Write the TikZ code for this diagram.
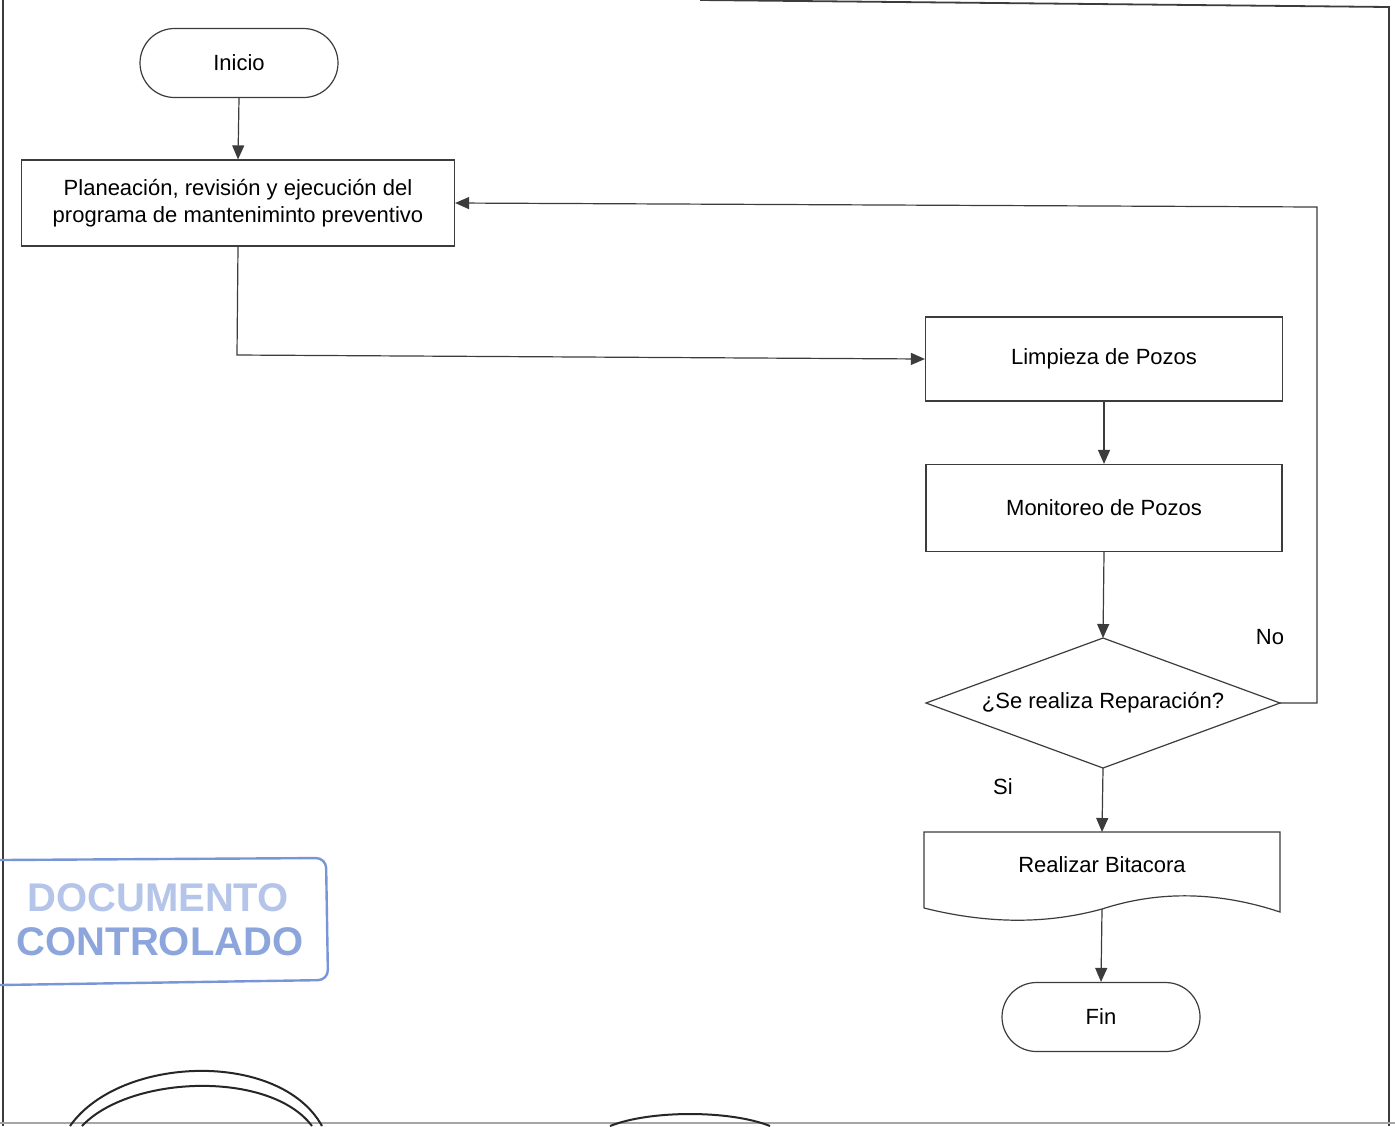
\documentclass[tikz,border=0pt]{standalone}
\usepackage{fontspec}
\setmainfont{Liberation Sans}
\usetikzlibrary{arrows.meta,shapes.misc}
\definecolor{stampblue}{RGB}{120,150,215}
\definecolor{linegray}{RGB}{60,60,60}
\begin{document}
\begin{tikzpicture}[x=0.5pt,y=-0.5pt,
  box/.style={draw=linegray,line width=0.6pt,rectangle,inner sep=0pt,font=\fontsize{11}{13.5}\selectfont,align=center},
  term/.style={draw=linegray,line width=0.6pt,rounded rectangle,inner sep=0pt,font=\fontsize{11}{13.5}\selectfont},
  conn/.style={draw=linegray,line width=0.6pt,-{Triangle[length=7pt,width=6pt]}},
  plain/.style={draw=linegray,line width=0.6pt},
  lbl/.style={font=\fontsize{11}{13.5}\selectfont,inner sep=0pt},
  stamptxt/.style={font=\fontsize{20}{22}\selectfont\bfseries,inner sep=0pt}]
\useasboundingbox (0,0) rectangle (1395,1126);
\fill[white] (0,0) rectangle (1395,1126);
% page frame
\draw[linegray,line width=0.6pt] (3,0) -- (3,1126);
\draw[linegray,line width=0.6pt] (1389,6) -- (1389,1126);
\draw[linegray,line width=0.9pt] (700,0) -- (1389,7);
\draw[gray!70,line width=1pt] (0,1123) -- (1395,1123);
% nodes
\node[term,minimum width=99pt,minimum height=34.5pt] (inicio) at (239,63) {Inicio};
\node[box,minimum width=216.5pt,minimum height=43pt] (plan) at (238,203) {Planeación, revisión y ejecución del\\programa de manteniminto preventivo};
\node[box,minimum width=178.5pt,minimum height=42pt] (limp) at (1104,359) {Limpieza de Pozos};
\node[box,minimum width=178pt,minimum height=43.5pt] (moni) at (1104,508) {Monitoreo de Pozos};
% decision diamond
\coordinate (dt) at (1103,638);
\coordinate (dr) at (1280,703);
\coordinate (db) at (1103,768);
\coordinate (dl) at (926,703);
\draw[plain] (dt) -- (dr) -- (db) -- (dl) -- cycle;
\node[lbl] (dec) at (1103,703) {¿Se realiza Reparación?};
% document shape
\coordinate (dct) at (1102,832);
\coordinate (dcb) at (1102,909);
\draw[plain] (924,908) -- (924,832) -- (1280,832) -- (1280,912)
  .. controls (1220,892) and (1160,890) .. (1102,909)
  .. controls (1040,926) and (980,922) .. (924,908);
\node[lbl] (bita) at (1102,865) {Realizar Bitacora};
\node[term,minimum width=99pt,minimum height=34.5pt] (fin) at (1101,1017) {Fin};
% labels
\node[lbl] (no) at (1270,637) {No};
\node[lbl] (si) at (1003,787) {Si};
% connectors
\draw[conn] (inicio.south) -- (plan.north);
\draw[conn] (plan.south) -- (237,355) -- (limp.west);
\draw[conn] (limp.south) -- (moni.north);
\draw[conn] (moni.south) -- (dt);
\draw[conn] (dr) -- (1317,703) -- (1317,207) -- (plan.east);
\draw[conn] (db) -- (dct);
\draw[conn] (dcb) -- (fin.north);
% stamp
\draw[stampblue,line width=1.2pt,rounded corners=5pt] (0,860) -- (326,858) -- (328,980) -- (0,985);
\node[stamptxt,text=stampblue!55] (doc) at (158,898) {DOCUMENTO};
\node[stamptxt,text=stampblue!85] (ctrl) at (160,942) {CONTROLADO};
% signature arcs at bottom
\draw[black!85,line width=1pt] (70,1126) .. controls (120,1055) and (280,1050) .. (322,1126);
\draw[black!85,line width=1pt] (82,1126) .. controls (130,1075) and (270,1070) .. (312,1126);
\draw[black!85,line width=1pt] (610,1126) .. controls (650,1110) and (730,1110) .. (770,1126);
\end{tikzpicture}
\end{document}
